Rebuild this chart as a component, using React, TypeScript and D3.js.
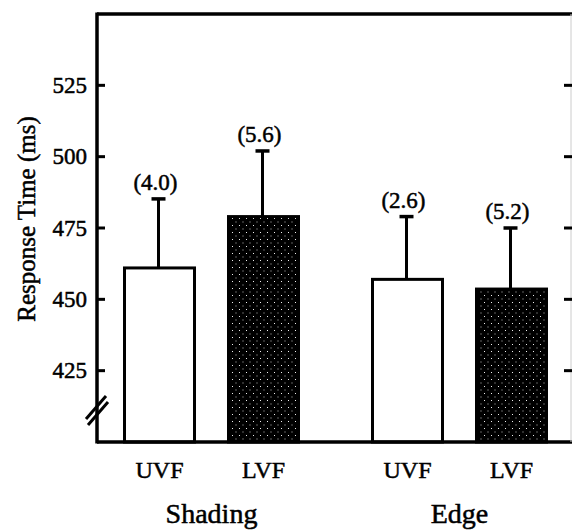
import React, { useEffect, useRef } from 'react';
import * as d3 from 'd3';

const groups = ['Shading', 'Edge'];
const fields = ['UVF', 'LVF'];
// mean response time (ms) per group, UVF then LVF
const shadingMeans = [461, 479];
const edgeMeans = [457, 453.6];
// top of error bar (ms)
const shadingErrTop = [485.2, 502];
const edgeErrTop = [479, 475];
// numbers printed above the bars
const shadingLabels = ['(4.0)', '(5.6)'];
const edgeLabels = ['(2.6)', '(5.2)'];
const yTicks = [425, 450, 475, 500, 525];

export default function App() {
  const chartRef = useRef<SVGSVGElement | null>(null);

  useEffect(() => {
    const width = 572;
    const height = 530;
    const left = 97, right = 571, top = 14, bottom = 442;
    const font = 'Liberation Serif, DejaVu Serif, serif';

    const svg = d3.select(chartRef.current);
    svg.selectAll('*').remove();
    svg.attr('width', width).attr('height', height);

    const defs = svg.append('defs');
    const pat = defs.append('pattern')
      .attr('id', 'stipple')
      .attr('patternUnits', 'userSpaceOnUse')
      .attr('width', 7)
      .attr('height', 7);
    pat.append('rect').attr('width', 7).attr('height', 7).attr('fill', '#000');
    pat.append('rect').attr('x', 1).attr('y', 1).attr('width', 1).attr('height', 1).attr('fill', '#eee');
    pat.append('rect').attr('x', 4.5).attr('y', 4.5).attr('width', 1).attr('height', 1).attr('fill', '#bbb');

    const rows = [
      ...fields.map((f, i) => ({ group: groups[0], field: f, mean: shadingMeans[i], err: shadingErrTop[i], label: shadingLabels[i] })),
      ...fields.map((f, i) => ({ group: groups[1], field: f, mean: edgeMeans[i], err: edgeErrTop[i], label: edgeLabels[i] })),
    ];

    const y = d3.scaleLinear().domain([400, 550]).range([bottom, top]);
    const xGroup = d3.scalePoint().domain(groups).range([211.5, 459.5]);
    const xField = d3.scalePoint().domain(fields).range([-52, 52]);
    const barW = 70;
    const cx = (d) => xGroup(d.group) + xField(d.field);

    // scanned print looks heavy, so give the text a thin outline
    const heavy = (sel) => sel
      .attr('font-family', font)
      .attr('stroke', '#000')
      .attr('stroke-width', 0.5);

    // bars
    svg.selectAll('.bar')
      .data(rows)
      .enter().append('rect')
      .attr('class', 'bar')
      .attr('x', d => cx(d) - barW / 2)
      .attr('y', d => y(d.mean))
      .attr('width', barW)
      .attr('height', d => bottom - y(d.mean))
      .attr('fill', d => d.field === 'UVF' ? '#fff' : 'url(#stipple)')
      .attr('stroke', '#000')
      .attr('stroke-width', 3);

    // error bars
    svg.selectAll('.err')
      .data(rows)
      .enter().append('line')
      .attr('x1', d => cx(d) - 1)
      .attr('x2', d => cx(d) - 1)
      .attr('y1', d => y(d.mean))
      .attr('y2', d => y(d.err))
      .attr('stroke', '#000')
      .attr('stroke-width', 3);

    svg.selectAll('.cap')
      .data(rows)
      .enter().append('line')
      .attr('x1', d => cx(d) - 8)
      .attr('x2', d => cx(d) + 6)
      .attr('y1', d => y(d.err))
      .attr('y2', d => y(d.err))
      .attr('stroke', '#000')
      .attr('stroke-width', 3.5);

    svg.selectAll('.val')
      .data(rows)
      .enter().append('text')
      .attr('x', d => cx(d) - 4)
      .attr('y', d => y(d.err) - 9)
      .attr('text-anchor', 'middle')
      .call(heavy)
      .attr('font-size', 23)
      .text(d => d.label);

    // frame
    const ax = svg.append('g').attr('stroke', '#000').attr('stroke-width', 3.5);
    ax.append('line').attr('x1', left).attr('x2', left).attr('y1', top - 1.5).attr('y2', bottom + 1.5);
    ax.append('line').attr('x1', left).attr('x2', width).attr('y1', top).attr('y2', top);
    ax.append('line').attr('x1', left).attr('x2', width).attr('y1', bottom).attr('y2', bottom);
    svg.append('line')
      .attr('x1', right).attr('x2', right).attr('y1', top).attr('y2', bottom)
      .attr('stroke', '#ccc').attr('stroke-width', 1);

    // ticks, left and right, pointing inward
    svg.selectAll('.ltick')
      .data(yTicks)
      .enter().append('line')
      .attr('x1', left).attr('x2', left + 8)
      .attr('y1', d => y(d)).attr('y2', d => y(d))
      .attr('stroke', '#000').attr('stroke-width', 3);
    svg.selectAll('.rtick')
      .data(yTicks)
      .enter().append('line')
      .attr('x1', right - 7).attr('x2', width)
      .attr('y1', d => y(d)).attr('y2', d => y(d))
      .attr('stroke', '#000').attr('stroke-width', 3);

    svg.selectAll('.tlabel')
      .data(yTicks)
      .enter().append('text')
      .attr('x', 87)
      .attr('y', d => y(d))
      .attr('dy', '0.34em')
      .attr('text-anchor', 'end')
      .call(heavy)
      .attr('font-size', 23)
      .text(d => d);

    // axis break
    const brk = svg.append('g').attr('stroke', '#000').attr('stroke-width', 3);
    brk.append('line').attr('x1', 86).attr('y1', 419).attr('x2', 106).attr('y2', 396);
    brk.append('line').attr('x1', 88).attr('y1', 425).attr('x2', 108).attr('y2', 402);

    // category labels
    svg.selectAll('.cat')
      .data(rows)
      .enter().append('text')
      .attr('x', d => cx(d))
      .attr('y', 478)
      .attr('text-anchor', 'middle')
      .call(heavy)
      .attr('font-size', 24)
      .text(d => d.field);

    svg.selectAll('.grp')
      .data(groups)
      .enter().append('text')
      .attr('x', d => xGroup(d))
      .attr('y', 523)
      .attr('text-anchor', 'middle')
      .call(heavy)
      .attr('font-size', 28)
      .text(d => d);

    svg.append('text')
      .attr('transform', 'translate(35,219) rotate(-90)')
      .attr('text-anchor', 'middle')
      .call(heavy)
      .attr('font-size', 25)
      .text('Response Time (ms)');
  }, []);

  return (
    <svg ref={chartRef} style={{ position: 'absolute', left: 0, top: 0, background: '#fff' }} />
  );
}
